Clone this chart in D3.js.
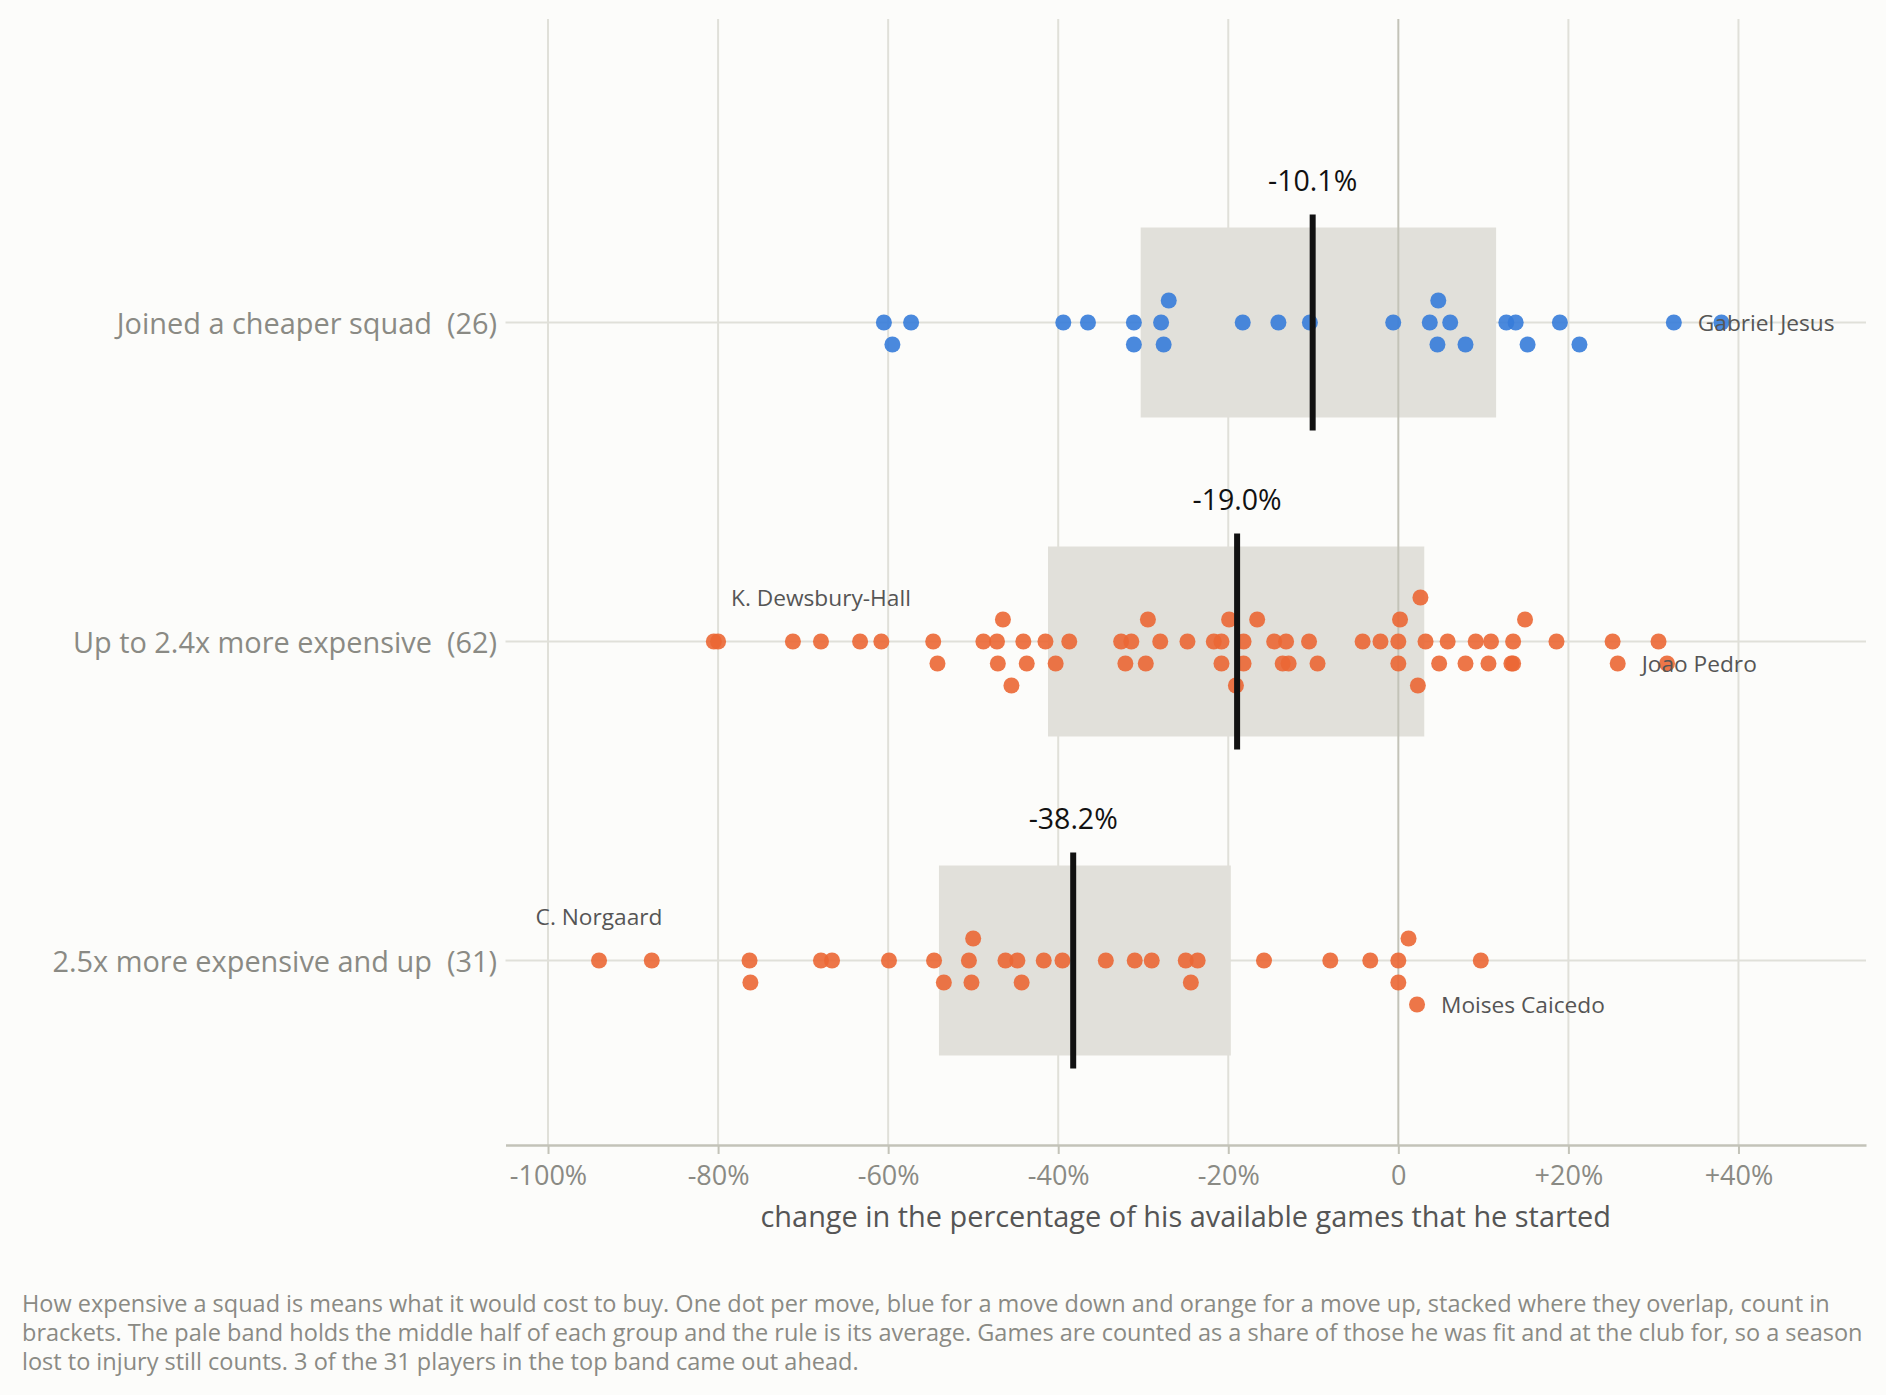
<!DOCTYPE html>
<html>
<head>
<meta charset="utf-8">
<script src="https://cdn.jsdelivr.net/npm/d3@7"></script>
<style>
  body { margin: 0; background: #fcfcfa; }
  text { font-family: "Open Sans", "Noto Sans", sans-serif; }
</style>
</head>
<body>
<svg id="chart"></svg>
<script>
// groups, top to bottom
var groupNames = ["Joined a cheaper squad", "Up to 2.4x more expensive", "2.5x more expensive and up"];

// change in share of available games started, one value per move (percentage points)
var cheaperSquad = [-60.5, -59.5, -57.3, -39.4, -36.5, -31.1, -31.1, -27.9, -27.6, -27.0, -18.3, -14.1, -10.4,
    -0.6, 3.7, 4.6, 4.7, 6.1, 7.9, 12.7, 13.8, 15.2, 19.0, 21.3, 32.4, 38.0];
var upTo24x = [-80.5, -80.0, -71.2, -67.9, -63.3, -60.8, -54.7, -54.2, -48.8, -47.2, -47.1, -46.5, -45.5,
    -44.1, -43.7, -41.5, -40.3, -38.7, -32.6, -32.1, -31.4, -29.7, -29.45, -28.0, -24.8, -21.7, -20.8,
    -20.8, -19.9, -19.1, -18.2, -18.2, -16.6, -14.6, -13.6, -13.2, -12.9, -10.5, -9.5, -4.2, -2.1, 0.0,
    0.0, 0.2, 2.3, 2.6, 3.2, 4.8, 5.8, 7.9, 9.1, 10.6, 10.9, 13.3, 13.5, 13.5, 14.9, 18.6, 25.2, 25.8,
    30.6, 31.6];
var from25x = [-94.0, -87.8, -76.3, -76.2, -67.9, -66.6, -59.9, -54.6, -53.45, -50.5, -50.2, -50.0, -46.2,
    -44.8, -44.3, -41.7, -39.5, -34.4, -31.0, -29.0, -25.0, -24.4, -23.6, -15.8, -8.0, -3.3, 0.0, 0.0,
    1.2, 2.2, 9.7];

var xTicks = [-100, -80, -60, -40, -20, 0, 20, 40];

// named players
var labelNames = ["Gabriel Jesus", "Joao Pedro", "Moises Caicedo", "K. Dewsbury-Hall", "C. Norgaard"];
var labelGroups = [0, 1, 2, 1, 2];
var labelValues = [32.4, 25.8, 2.2, -67.9, -94.0];

var groupValues = [cheaperSquad, upTo24x, from25x];
var groupColors = ["#367cd9", "#eb6734", "#eb6734"];

var W = 1886, H = 1395;
var binWidth = 2.67;      // dots closer than one bin get stacked
var laneStep = 22;
var laneOrder = [0, 1, -1, 2, -2, 3, -3];
var gridTop = 19, axisY = 1145;

var svg = d3.select('#chart').attr('width', W).attr('height', H);
svg.append('rect').attr('width', W).attr('height', H).attr('fill', '#fcfcfa');

var x = d3.scaleLinear().domain([-105, 55]).range([505.5, 1866]);
var y = d3.scalePoint().domain(d3.range(groupNames.length)).range([322.5, 960.5]);

function stackDots(values) {
    var sorted = values.slice().sort(d3.ascending);
    var bins = d3.group(sorted, function (v) { return Math.floor(v / binWidth); });
    var dots = [];
    bins.forEach(function (vals) {
        vals.forEach(function (v, i) { dots.push({ value: v, lane: laneOrder[i] }); });
    });
    return dots;
}

var layouts = groupValues.map(stackDots);

// grid
svg.append('g').selectAll('line')
    .data(xTicks.filter(function (d) { return d !== 0; }))
    .enter().append('line')
    .attr('x1', function (d) { return x(d); }).attr('x2', function (d) { return x(d); })
    .attr('y1', gridTop).attr('y2', axisY)
    .attr('stroke', '#e0e0d9').attr('stroke-width', 2);

svg.append('g').selectAll('line')
    .data(groupNames)
    .enter().append('line')
    .attr('x1', x.range()[0]).attr('x2', x.range()[1])
    .attr('y1', function (d, i) { return y(i); }).attr('y2', function (d, i) { return y(i); })
    .attr('stroke', '#e0e0d9').attr('stroke-width', 2);

// middle half band
svg.append('g').selectAll('rect')
    .data(groupValues)
    .enter().append('rect')
    .attr('x', function (d) { return x(d3.quantile(d, 0.25)); })
    .attr('width', function (d) { return x(d3.quantile(d, 0.75)) - x(d3.quantile(d, 0.25)); })
    .attr('y', function (d, i) { return y(i) - 95; })
    .attr('height', 190)
    .attr('fill', '#e1e0da');

svg.append('line')
    .attr('x1', x(0)).attr('x2', x(0))
    .attr('y1', gridTop).attr('y2', axisY)
    .attr('stroke', '#c3c3b8').attr('stroke-width', 2);

// dots
groupValues.forEach(function (vals, g) {
    svg.append('g').selectAll('circle')
        .data(layouts[g])
        .enter().append('circle')
        .attr('cx', function (d) { return x(d.value); })
        .attr('cy', function (d) { return y(g) + d.lane * laneStep; })
        .attr('r', 8)
        .attr('fill', groupColors[g])
        .attr('fill-opacity', 0.9);
});

// average rule and its label
svg.append('g').selectAll('line')
    .data(groupValues)
    .enter().append('line')
    .attr('x1', function (d) { return x(d3.mean(d)); })
    .attr('x2', function (d) { return x(d3.mean(d)); })
    .attr('y1', function (d, i) { return y(i) - 108; })
    .attr('y2', function (d, i) { return y(i) + 108; })
    .attr('stroke', '#111').attr('stroke-width', 6);

svg.append('g').selectAll('text')
    .data(groupValues)
    .enter().append('text')
    .attr('x', function (d) { return x(d3.mean(d)); })
    .attr('y', function (d, i) { return y(i) - 143; })
    .attr('text-anchor', 'middle')
    .attr('dominant-baseline', 'central')
    .attr('font-size', 28.5)
    .attr('fill', '#111')
    .text(function (d) { return d3.mean(d).toFixed(1) + '%'; });

// group labels
svg.append('g').selectAll('text')
    .data(groupNames)
    .enter().append('text')
    .attr('x', 497)
    .attr('y', function (d, i) { return y(i); })
    .attr('text-anchor', 'end')
    .attr('dominant-baseline', 'central')
    .attr('font-size', 28.9)
    .attr('fill', '#8a8a84')
    .text(function (d, i) { return d + '\u00a0 (' + groupValues[i].length + ')'; });

// player names
labelNames.forEach(function (name, k) {
    var g = labelGroups[k];
    var dot = layouts[g].reduce(function (best, d) {
        return Math.abs(d.value - labelValues[k]) < Math.abs(best.value - labelValues[k]) ? d : best;
    });
    var t = svg.append('text')
        .attr('dominant-baseline', 'central')
        .attr('font-size', 22.7)
        .attr('fill', '#555')
        .text(name);
    if (dot.value < 0) {
        t.attr('x', x(dot.value)).attr('y', y(g) - 2 * laneStep).attr('text-anchor', 'middle');
    } else {
        t.attr('x', x(dot.value) + 24).attr('y', y(g) + dot.lane * laneStep).attr('text-anchor', 'start');
    }
});

// x axis
var axis = svg.append('g')
    .attr('transform', 'translate(0,' + axisY + ')')
    .call(d3.axisBottom(x).tickValues(xTicks).tickSize(9).tickSizeOuter(0)
        .tickFormat(function (d) { return d > 0 ? '+' + d + '%' : d === 0 ? '0' : d + '%'; }));
axis.select('.domain').attr('stroke', '#c3c3b8').attr('stroke-width', 2.5);
axis.selectAll('.tick line').attr('stroke', '#c3c3b8').attr('stroke-width', 2);
axis.selectAll('.tick text')
    .attr('y', 31).attr('dy', '0.35em')
    .attr('font-size', 27)
    .attr('font-family', '"Open Sans", sans-serif')
    .attr('fill', '#8a8a84');

svg.append('text')
    .attr('x', (x.range()[0] + x.range()[1]) / 2)
    .attr('y', 1215)
    .attr('text-anchor', 'middle')
    .attr('dominant-baseline', 'central')
    .attr('font-size', 28.9)
    .attr('fill', '#555')
    .text('change in the percentage of his available games that he started');

// note
var ahead = from25x.filter(function (v) { return v > 0; }).length;
var footLines = [
    'How expensive a squad is means what it would cost to buy. One dot per move, blue for a move down and orange for a move up, stacked where they overlap, count in',
    'brackets. The pale band holds the middle half of each group and the rule is its average. Games are counted as a share of those he was fit and at the club for, so a season',
    'lost to injury still counts. ' + ahead + ' of the ' + from25x.length + ' players in the top band came out ahead.'
];
svg.append('g').selectAll('text')
    .data(footLines)
    .enter().append('text')
    .attr('x', 22)
    .attr('y', function (d, i) { return 1303 + i * 29; })
    .attr('dominant-baseline', 'central')
    .attr('font-size', 23.5)
    .attr('fill', '#8a8a84')
    .text(function (d) { return d; });
</script>
</body>
</html>
